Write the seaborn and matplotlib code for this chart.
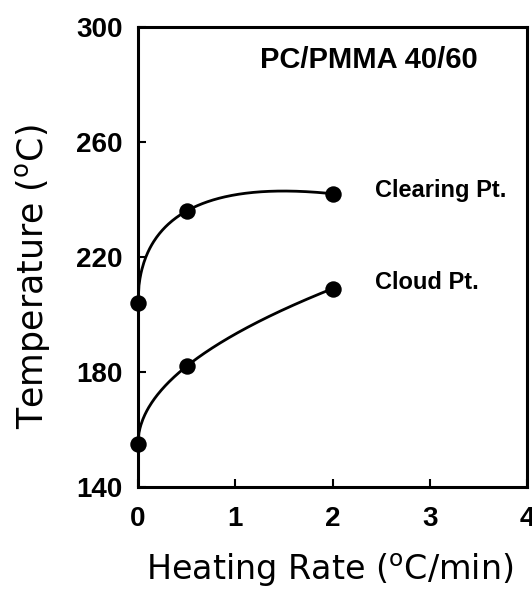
import numpy as np
import pandas as pd
import matplotlib
matplotlib.use("Agg")
import matplotlib.pyplot as plt
import seaborn as sns

# Data
rate = [0.0, 0.5, 2.0]
clearing_pt = [204.0, 236.0, 242.0]
cloud_pt = [155.0, 182.0, 209.0]
series_names = ["Clearing Pt.", "Cloud Pt."]
x_ticks = [0, 1, 2, 3, 4]
y_ticks = [140, 180, 220, 260, 300]

sns.set_theme(style="ticks")
plt.rcParams['font.family'] = ['Liberation Sans', 'DejaVu Sans']
plt.rcParams['mathtext.fontset'] = 'custom'
plt.rcParams['mathtext.rm'] = 'DejaVu Sans'
plt.rcParams['text.color'] = 'black'
plt.rcParams['axes.labelcolor'] = 'black'

fig = plt.figure(figsize=(5.32, 5.89), dpi=100)
ax = fig.add_axes([138/532, 1-487/589, (527-138)/532, (487-27)/589])

# smooth fitted curves (quadratic in sqrt of rate)
xs = np.linspace(0, 2, 200)
curves = []
for name, vals in zip(series_names, [clearing_pt, cloud_pt]):
    coef = np.polyfit(np.sqrt(rate), vals, 2)
    curves.append(pd.DataFrame({"x": xs, "y": np.polyval(coef, np.sqrt(xs)), "s": name}))
curve_df = pd.concat(curves)
pts = pd.DataFrame({"x": rate * 2, "y": clearing_pt + cloud_pt,
                    "s": [series_names[0]] * 3 + [series_names[1]] * 3})

sns.lineplot(data=curve_df, x="x", y="y", units="s", estimator=None,
             color="black", lw=2.0, ax=ax, legend=False)
sns.scatterplot(data=pts, x="x", y="y", color="black", s=140,
                edgecolor="black", linewidth=0, ax=ax, legend=False, zorder=5, clip_on=False)

ax.set_xlim(0, 4)
ax.set_ylim(140, 300)
ax.set_xticks(x_ticks)
ax.set_yticks(y_ticks)
ax.tick_params(direction="in", length=6, width=1.5, labelsize=20, colors="black")
ax.tick_params(axis="x", pad=14)
ax.tick_params(axis="y", pad=11)
for lab in ax.get_xticklabels() + ax.get_yticklabels():
    lab.set_fontweight("bold")
for sp in ax.spines.values():
    sp.set_linewidth(2.2)
    sp.set_color("black")

ax.set_xlabel(r"Heating Rate ($^\mathrm{o}$C/min)", fontsize=24,
              color="black", family="DejaVu Sans", va="center", ha="center")
ax.set_ylabel(r"Temperature ($^\mathrm{o}$C)", fontsize=25,
              color="black", family="DejaVu Sans", va="center", ha="center")
ax.xaxis.set_label_coords((330-138)/389, (487-570)/460)
ax.yaxis.set_label_coords((32-138)/389, (487-277)/460)

ax.text(2.37, 288.5, "PC/PMMA 40/60", fontsize=21, fontweight="bold", ha="center", va="center")
ax.text(2.44, 243.3, series_names[0], fontsize=17, fontweight="bold", ha="left", va="center")
ax.text(2.44, 211.0, series_names[1], fontsize=17, fontweight="bold", ha="left", va="center")

fig.savefig("out.png", dpi=100)
